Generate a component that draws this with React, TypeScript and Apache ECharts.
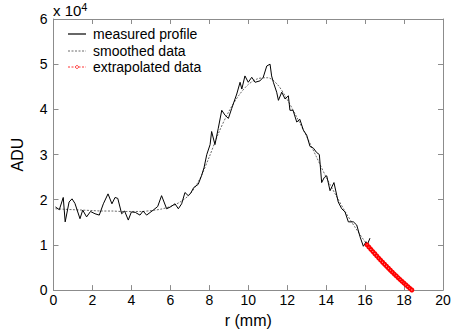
import React, { useEffect, useRef } from "react";
import * as echarts from "echarts";

// y values in units of 10^4 ADU
const measuredX = [0.1,0.3,0.5,0.6,0.8,0.95,1.1,1.36,1.5,1.7,1.9,2.13,2.35,2.56,2.8,3.0,3.16,3.3,3.5,3.65,3.84,4.0,4.2,4.44,4.6,4.78,5.12,5.35,5.55,5.81,6.0,6.24,6.41,6.58,6.75,6.92,7.05,7.2,7.43,7.6,7.73,7.87,8.04,8.12,8.29,8.46,8.64,8.81,8.98,9.15,9.32,9.41,9.58,9.67,9.83,10.0,10.18,10.35,10.6,10.77,10.95,11.12,11.2,11.29,11.46,11.55,11.72,11.89,12.06,12.14,12.3,12.49,12.65,12.83,13.0,13.17,13.35,13.5,13.65,13.77,13.9,14.03,14.2,14.4,14.62,14.8,14.97,15.14,15.4,15.57,15.74,15.91,16.05,16.11,16.25];
const measuredY = [1.84,1.78,2.05,1.51,1.95,2.02,1.92,1.58,1.77,1.62,1.74,1.69,1.66,1.91,2.13,1.91,2.05,2.03,1.69,1.75,1.55,1.73,1.72,1.66,1.75,1.66,1.77,1.85,2.09,1.80,1.84,1.91,1.80,1.91,2.16,2.09,2.15,2.27,2.34,2.53,2.71,3.0,3.22,3.51,3.22,3.58,3.98,3.87,3.80,4.02,4.23,4.34,4.6,4.45,4.74,4.6,4.71,4.6,4.63,4.71,4.96,5.0,4.74,4.6,4.38,4.2,4.38,4.23,4.3,3.98,3.98,3.72,3.78,3.54,3.43,3.18,3.14,3.05,3.0,2.38,2.49,2.53,2.2,2.38,1.95,1.8,1.73,1.51,1.51,1.44,1.18,0.97,1.07,1.0,1.15];

const smoothX = [0.1,0.5,1.0,1.5,2.0,2.5,3.0,3.5,4.0,4.5,5.0,5.5,6.0,6.5,7.0,7.5,8.0,8.5,9.0,9.5,10.0,10.5,11.0,11.5,12.0,12.5,13.0,13.5,14.0,14.5,15.0,15.5,16.0,16.2];
const smoothY = [1.80,1.79,1.78,1.77,1.76,1.75,1.75,1.74,1.74,1.74,1.76,1.79,1.85,1.95,2.12,2.45,2.95,3.5,3.95,4.3,4.55,4.68,4.7,4.55,4.22,3.82,3.4,2.95,2.5,2.1,1.72,1.38,1.07,0.97];

const extrapX = [16.1,16.2,16.3,16.4,16.5,16.6,16.7,16.8,16.9,17.0,17.1,17.2,17.3,17.4,17.5,17.6,17.7,17.8,17.9,18.0,18.1,18.2,18.3,18.4];
const extrapY = [1.0,0.95,0.901,0.852,0.804,0.756,0.709,0.663,0.617,0.572,0.527,0.483,0.44,0.397,0.355,0.313,0.272,0.232,0.192,0.153,0.114,0.076,0.039,0.002];

const xTicks = [0, 2, 4, 6, 8, 10, 12, 14, 16, 18, 20];
const yTicks = [0, 1, 2, 3, 4, 5, 6];
const legendNames = ["measured profile", "smoothed data", "extrapolated data"];

const FONT = "Liberation Sans, Arial, sans-serif";
const AXIS_COLOR = "#8c8c8c";

export default function App() {
  const ref = useRef<HTMLDivElement>(null);
  useEffect(() => {
    if (!ref.current) return;
    const chart = echarts.init(ref.current, undefined, { renderer: "svg" });
    const zip = (xs: number[], ys: number[]) => xs.map((x, i) => [x, ys[i]]);
    const xMin = xTicks[0], xMax = xTicks[xTicks.length - 1];
    const yMin = yTicks[0], yMax = yTicks[yTicks.length - 1];
    const baseAxis = {
      axisLine: { show: true, onZero: false, lineStyle: { color: AXIS_COLOR, width: 1 } },
      axisTick: { show: true, inside: true, length: 5, lineStyle: { color: AXIS_COLOR } },
      splitLine: { show: false },
    };
    const legendStyles = [
      { stroke: "#000", lineWidth: 1.2 },
      { stroke: "#444", lineWidth: 0.8, lineDash: [2, 1.5] },
      { stroke: "#ff0000", lineWidth: 0.8, lineDash: [2, 1.5] },
    ];
    const legendRowY = [34, 51, 67];
    const legendGraphics: any[] = [];
    legendNames.forEach((name, i) => {
      legendGraphics.push({
        type: "line", shape: { x1: 68, y1: legendRowY[i], x2: 86, y2: legendRowY[i] },
        style: legendStyles[i], silent: true,
      });
      legendGraphics.push({
        type: "text", x: 93, y: legendRowY[i],
        style: { text: name, fontFamily: FONT, fontSize: 14, fill: "#000", verticalAlign: "middle" },
      });
    });
    legendGraphics.push({
      type: "circle", shape: { cx: 77, cy: legendRowY[2], r: 1.5 },
      style: { fill: "#fff", stroke: "#ff0000", lineWidth: 0.7 },
    });
    chart.setOption({
      animation: false,
      backgroundColor: "#ffffff",
      grid: { left: 53.5, right: 13, top: 19, bottom: 39, containLabel: false },
      xAxis: [
        {
          type: "value", min: xMin, max: xMax, interval: 2, position: "bottom",
          ...baseAxis,
          axisLabel: { color: "#000", fontFamily: FONT, fontSize: 14, margin: 3 },
          name: "r (mm)", nameLocation: "middle", nameGap: 19,
          nameTextStyle: { fontFamily: FONT, fontSize: 16, color: "#000" },
        },
        {
          type: "value", min: xMin, max: xMax, interval: 2, position: "top",
          ...baseAxis, axisLabel: { show: false },
        },
      ],
      yAxis: [
        {
          type: "value", min: yMin, max: yMax, interval: 1, position: "left",
          ...baseAxis,
          axisLabel: { color: "#000", fontFamily: FONT, fontSize: 14, margin: 6 },
          name: "ADU", nameLocation: "middle", nameGap: 28, nameRotate: 90,
          nameTextStyle: { fontFamily: FONT, fontSize: 16, color: "#000" },
        },
        {
          type: "value", min: yMin, max: yMax, interval: 1, position: "right",
          ...baseAxis, axisLabel: { show: false },
        },
      ],
      graphic: [
        {
          type: "text", left: 53, top: 1,
          style: {
            text: "x 10{sup|4}",
            fontFamily: FONT, fontSize: 15, fill: "#000",
            rich: { sup: { fontFamily: FONT, fontSize: 11, verticalAlign: "top", padding: [0, 0, 8, 0] } },
          },
        },
        ...legendGraphics,
      ],
      series: [
        {
          name: "measured profile", type: "line", symbol: "none",
          data: zip(measuredX, measuredY),
          lineStyle: { color: "#000", width: 1 }, itemStyle: { color: "#000" }, z: 3,
        },
        {
          name: "smoothed data", type: "line", symbol: "none", smooth: 0.3,
          data: zip(smoothX, smoothY),
          lineStyle: { color: "#444", width: 0.8, type: [2, 1.5] }, itemStyle: { color: "#444" }, z: 2,
        },
        {
          name: "extrapolated data", type: "line", symbol: "emptyCircle", symbolSize: 3, showSymbol: true,
          data: zip(extrapX, extrapY),
          lineStyle: { color: "#ff0000", width: 0.7, type: [2, 1.5] },
          itemStyle: { color: "#ff0000", borderColor: "#ff0000", borderWidth: 0.6 }, z: 4,
        },
      ],
    });
    return () => chart.dispose();
  }, []);
  return <div ref={ref} style={{ width: 456, height: 333, position: "absolute", left: 0, top: 0 }} />;
}
